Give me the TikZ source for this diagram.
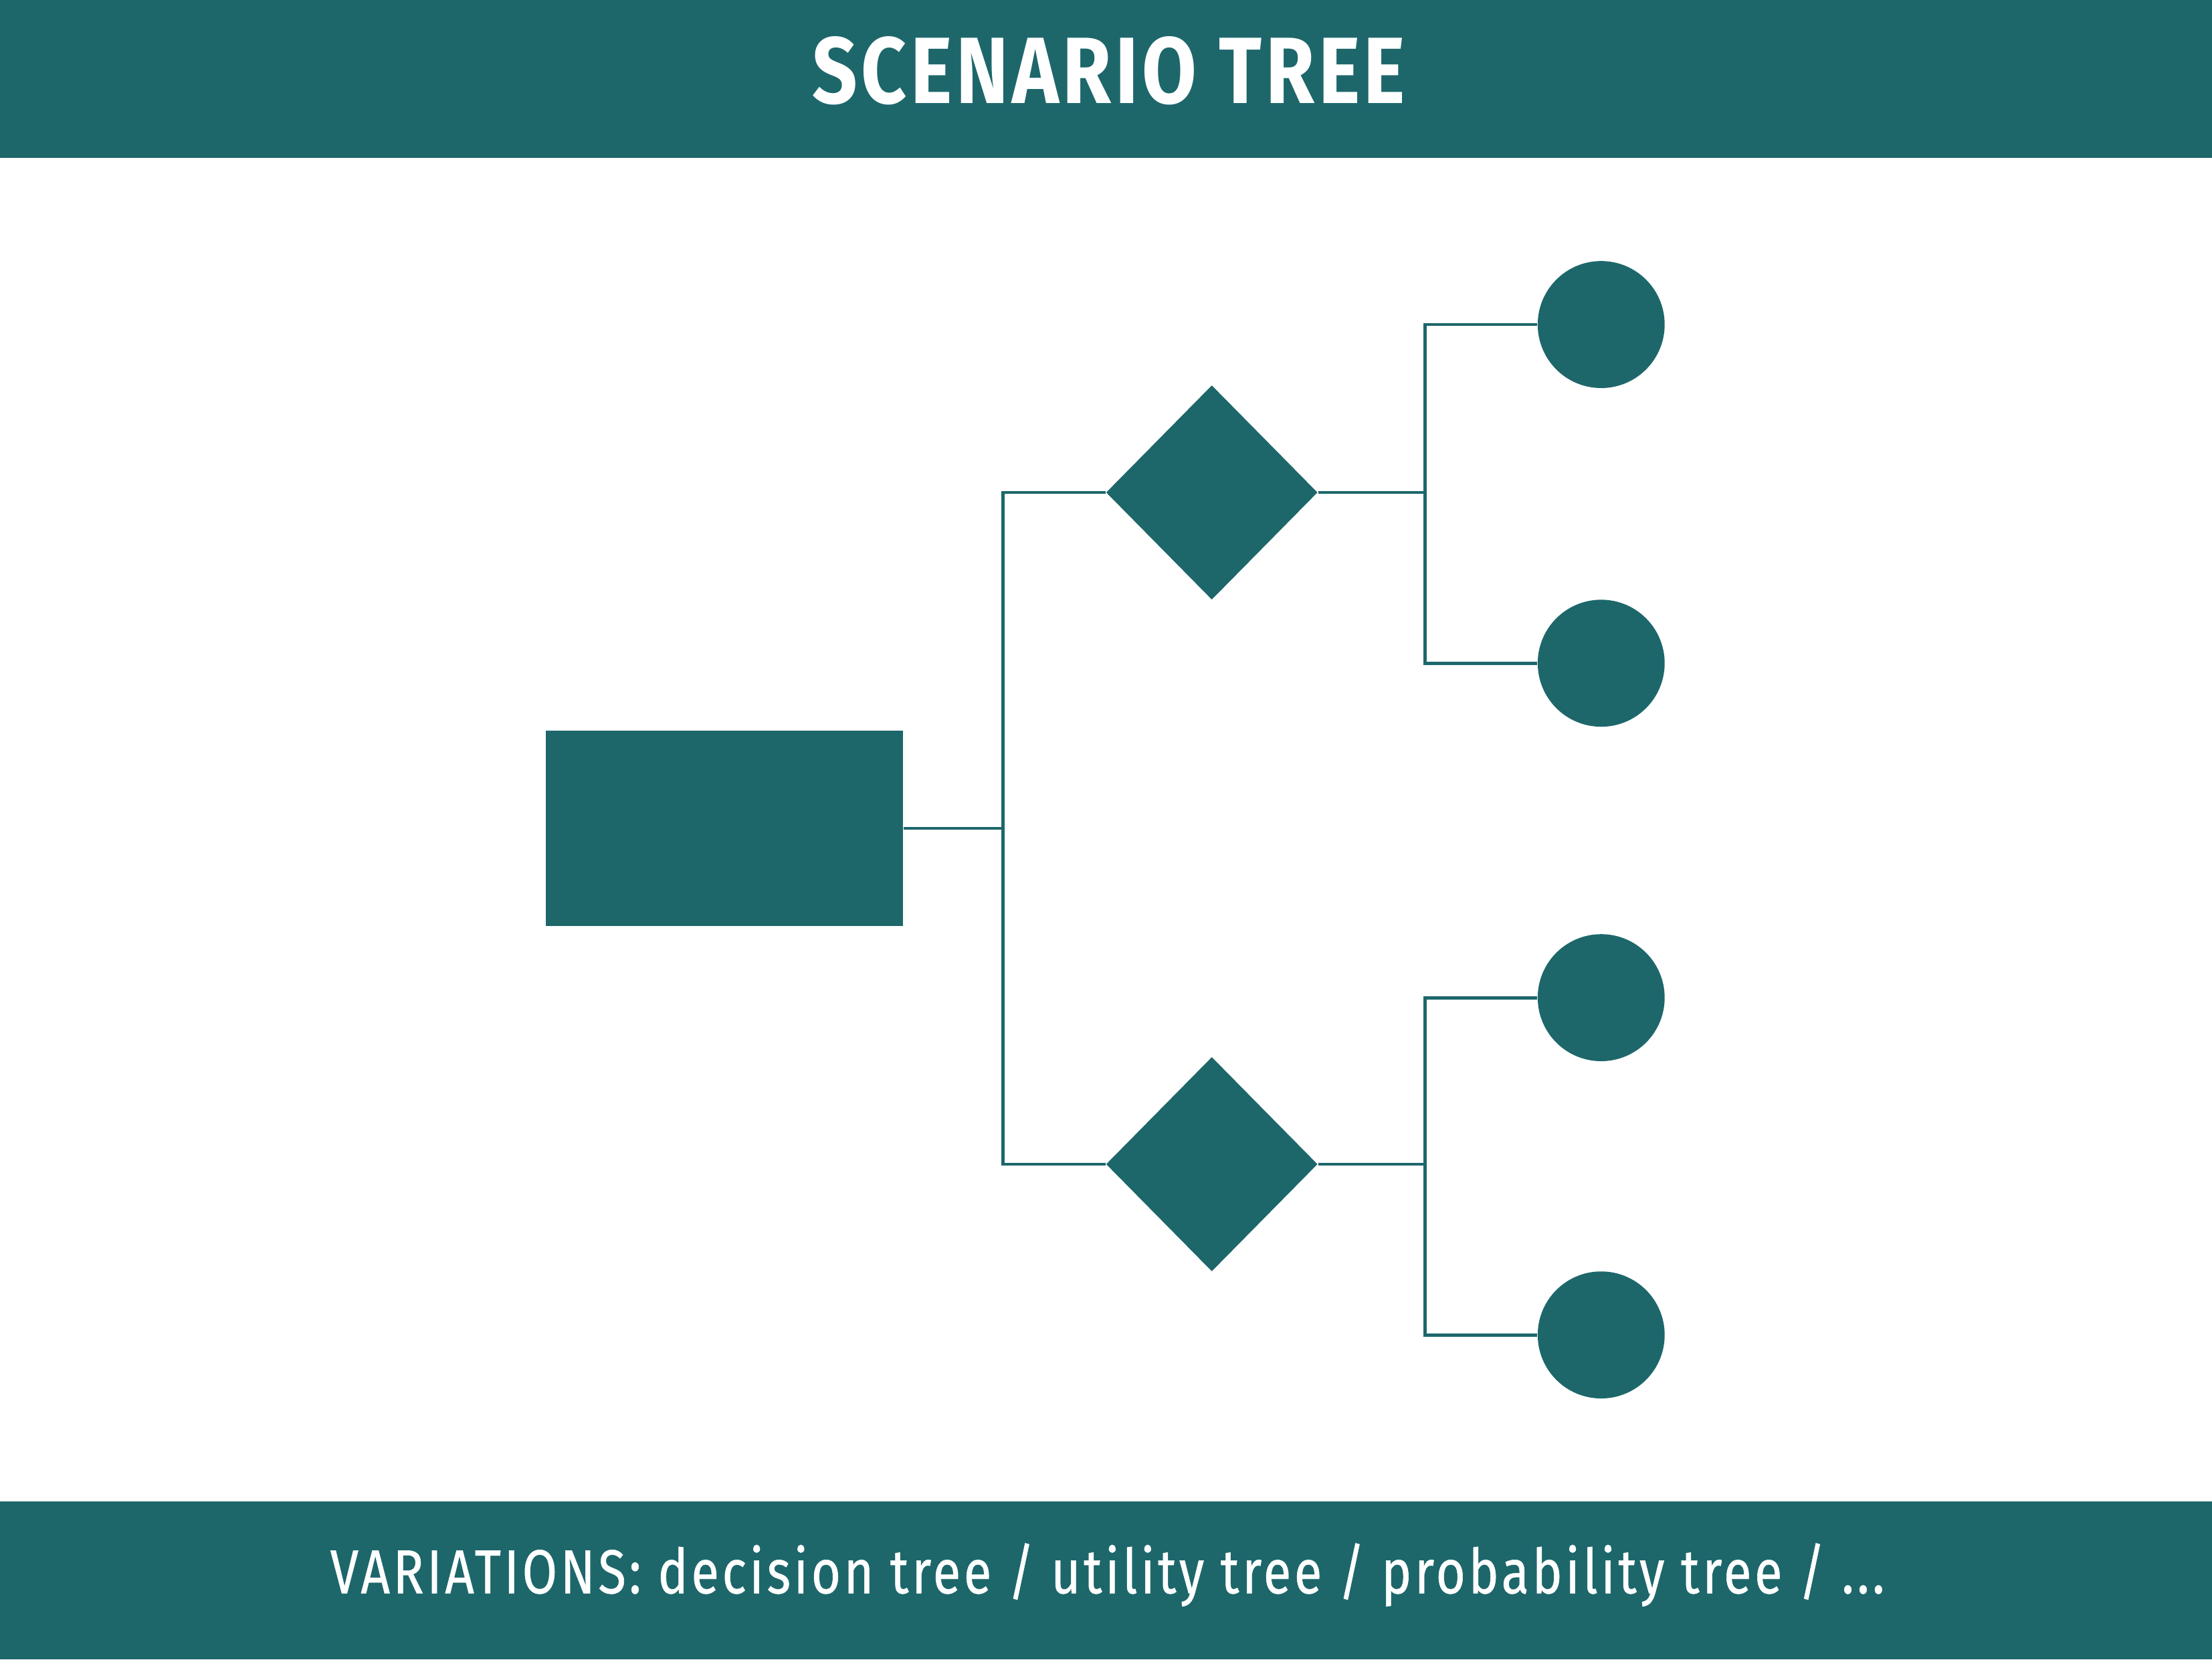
\documentclass[tikz,border=0pt]{standalone}
\usepackage{fontspec}
\usetikzlibrary{shapes.geometric}
\newfontfamily\titulofont[FakeStretch=0.84,LetterSpace=4]{Fira Sans Bold}
\newfontfamily\piefont[FakeStretch=0.82,LetterSpace=5,FakeBold=0.6]{Fira Sans}
\definecolor{verde}{RGB}{29,103,107}
\tikzset{
	raiz/.style={fill=verde, minimum width=5.06cm, minimum height=2.76cm},
	rombo/.style={diamond, fill=verde, minimum width=3cm, minimum height=3.04cm, inner sep=0pt},
	hoja/.style={circle, fill=verde, minimum size=1.8cm, inner sep=0pt},
	rama/.style={draw=verde, line width=1.3pt}
}
\begin{document}
	\begin{tikzpicture}
		\useasboundingbox (0,0) rectangle (31.36,23.52);
		\fill[verde] (0,21.28) rectangle (31.36,23.52); % barra superior
		\fill[verde] (0,0) rectangle (31.36,2.24); % barra inferior
		\node[text=white, font=\titulofont\fontsize{38}{40}\selectfont] (titulo) at (15.72,22.52) {SCENARIO TREE};
		\node[text=white, font=\piefont\fontsize{25}{28}\selectfont] (pie) at (15.7,1.2) {VARIATIONS: decision tree / utility tree / probability tree / ...};
		\node[raiz] (raiz) at (10.27,11.78) {};
		\node[rombo] (d1) at (17.18,16.54) {};
		\node[rombo] (d2) at (17.18,7.02) {};
		\node[hoja] (h1) at (22.7,18.92) {};
		\node[hoja] (h2) at (22.7,14.12) {};
		\node[hoja] (h3) at (22.7,9.38) {};
		\node[hoja] (h4) at (22.7,4.6) {};
		\coordinate (j0) at (14.22,11.78);
		\coordinate (j1) at (20.2,16.54);
		\coordinate (j2) at (20.2,7.02);
		\draw[rama] (raiz.east) -- (j0) |- (d1.west);
		\draw[rama] (j0) |- (d2.west);
		\draw[rama] (d1.east) -- (j1) |- (h1.west);
		\draw[rama] (j1) |- (h2.west);
		\draw[rama] (d2.east) -- (j2) |- (h3.west);
		\draw[rama] (j2) |- (h4.west);
	\end{tikzpicture}
\end{document}
